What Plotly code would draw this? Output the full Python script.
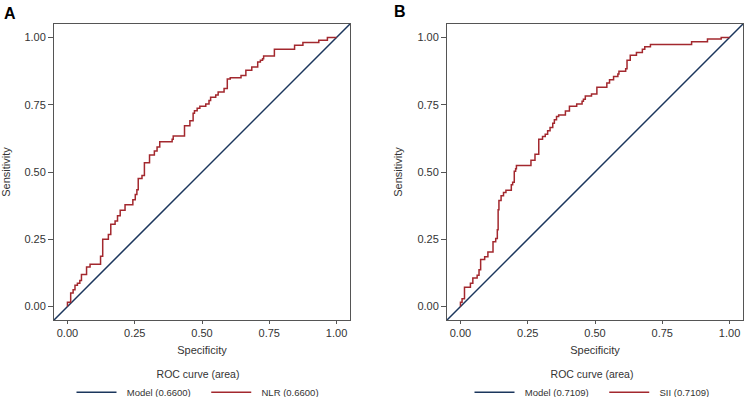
import plotly.graph_objects as go

# Panel A: NLR ROC step points (x where step occurs, y after step)
nlr_x = [0, 0, 0.012, 0.021, 0.028, 0.037, 0.046, 0.052, 0.071, 0.084,
         0.123, 0.131, 0.152, 0.161, 0.177, 0.186, 0.196, 0.214, 0.243, 0.252,
         0.258, 0.263, 0.277, 0.286, 0.305, 0.323, 0.333, 0.343, 0.389, 0.393,
         0.435, 0.455, 0.467, 0.472, 0.482, 0.492, 0.514, 0.526, 0.532, 0.551,
         0.560, 0.582, 0.594, 0.605, 0.645, 0.663, 0.685, 0.707, 0.717, 0.725,
         0.729, 0.769, 0.844, 0.875, 0.934, 0.966, 1.0]
nlr_y = [0, 0.016, 0.05, 0.062, 0.079, 0.087, 0.097, 0.119, 0.147, 0.157,
         0.187, 0.25, 0.268, 0.306, 0.318, 0.337, 0.358, 0.378, 0.397, 0.416,
         0.434, 0.476, 0.487, 0.534, 0.563, 0.578, 0.593, 0.612, 0.622, 0.634,
         0.672, 0.69, 0.718, 0.728, 0.737, 0.744, 0.753, 0.766, 0.778, 0.786,
         0.797, 0.81, 0.846, 0.85, 0.859, 0.878, 0.89, 0.909, 0.915, 0.921,
         0.931, 0.956, 0.971, 0.981, 0.99, 1.0, 1.0]

# Panel B: SII ROC step points
sii_x = [0, 0, 0.006, 0.015, 0.037, 0.046, 0.062, 0.069, 0.075, 0.090,
         0.102, 0.121, 0.131, 0.137, 0.140, 0.143, 0.151, 0.160, 0.169, 0.189,
         0.194, 0.200, 0.205, 0.208, 0.262, 0.277, 0.291, 0.305, 0.315, 0.324,
         0.333, 0.343, 0.349, 0.357, 0.365, 0.390, 0.405, 0.432, 0.452, 0.457,
         0.464, 0.487, 0.507, 0.544, 0.554, 0.569, 0.585, 0.589, 0.614, 0.619,
         0.631, 0.654, 0.676, 0.685, 0.706, 0.859, 0.918, 0.969, 1.0]
sii_y = [0, 0.016, 0.029, 0.072, 0.087, 0.106, 0.116, 0.137, 0.175, 0.185,
         0.203, 0.241, 0.253, 0.285, 0.36, 0.394, 0.412, 0.424, 0.432, 0.453,
         0.462, 0.503, 0.512, 0.524, 0.544, 0.566, 0.622, 0.632, 0.64, 0.653,
         0.665, 0.681, 0.694, 0.706, 0.712, 0.727, 0.744, 0.753, 0.763, 0.770,
         0.782, 0.79, 0.815, 0.831, 0.843, 0.855, 0.864, 0.874, 0.884, 0.915,
         0.934, 0.944, 0.956, 0.965, 0.974, 0.984, 0.994, 1.0, 1.0]

diag = [-0.05, 1.05]
ticks = [0, 0.25, 0.5, 0.75, 1.0]
tick_text = ["0.00", "0.25", "0.50", "0.75", "1.00"]

NAVY = "#1b365d"
RED = "#a3282e"
FONT = "Liberation Sans, Arial, sans-serif"
NB = "\u00a0"

fig = go.Figure()
fig.add_trace(go.Scatter(x=diag, y=diag, mode="lines", line=dict(color=NAVY, width=1.5),
                         name=NB * 2 + "Model (0.6600)" + NB * 4, xaxis="x", yaxis="y", legend="legend"))
fig.add_trace(go.Scatter(x=nlr_x, y=nlr_y, mode="lines", line=dict(color=RED, width=1.5, shape="hv"),
                         name=NB * 2 + "NLR (0.6600)", xaxis="x", yaxis="y", legend="legend"))
fig.add_trace(go.Scatter(x=diag, y=diag, mode="lines", line=dict(color=NAVY, width=1.5),
                         name=NB * 2 + "Model (0.7109)" + NB * 4, xaxis="x2", yaxis="y2", legend="legend2"))
fig.add_trace(go.Scatter(x=sii_x, y=sii_y, mode="lines", line=dict(color=RED, width=1.5, shape="hv"),
                         name=NB * 2 + "SII (0.7109)", xaxis="x2", yaxis="y2", legend="legend2"))

ax_common = dict(range=[-0.05, 1.05], tickvals=ticks, ticktext=tick_text, showgrid=False,
                 zeroline=False, showline=True, linecolor="#555555", linewidth=1, mirror=True,
                 ticks="outside", ticklen=5, tickcolor="#555555", automargin=False,
                 tickfont=dict(size=11, color="#333333", family=FONT))

ydom = [1 - 320 / 397, 1 - 24 / 397]
xt = dict(text="Specificity", font=dict(size=11), standoff=8)
yt = dict(text="Sensitivity", font=dict(size=11), standoff=12)
fig.update_layout(
    width=744, height=397,
    margin=dict(l=0, r=0, t=0, b=0, autoexpand=False),
    paper_bgcolor="white", plot_bgcolor="white",
    font=dict(family=FONT, color="#333333", size=10),
    xaxis=dict(domain=[54 / 744, 350 / 744], anchor="y", title=xt, **{**ax_common, "ticklen": 3}),
    yaxis=dict(domain=ydom, anchor="x", title=yt, **ax_common),
    xaxis2=dict(domain=[447 / 744, 743 / 744], anchor="y2", title=xt, **{**ax_common, "ticklen": 3}),
    yaxis2=dict(domain=ydom, anchor="x2", title=yt, **ax_common),
    legend=dict(orientation="h", x=198 / 744, xanchor="center", y=1 - 364 / 397, yanchor="top",
                title=dict(text="ROC curve (area)", side="top center", font=dict(size=10.5)),
                font=dict(size=9.5, color="#333333"), itemwidth=40, tracegroupgap=0,
                bgcolor="rgba(0,0,0,0)"),
    legend2=dict(orientation="h", x=592 / 744, xanchor="center", y=1 - 364 / 397, yanchor="top",
                 title=dict(text="ROC curve (area)", side="top center", font=dict(size=10.5)),
                 font=dict(size=9.5, color="#333333"), itemwidth=40, tracegroupgap=0,
                 bgcolor="rgba(0,0,0,0)"),
    annotations=[
        dict(text="<b>A</b>", x=2 / 744, y=1 - 3 / 397, xref="paper", yref="paper",
             xanchor="left", yanchor="top", showarrow=False, font=dict(size=16, color="black")),
        dict(text="<b>B</b>", x=392 / 744, y=1 - 1 / 397, xref="paper", yref="paper",
             xanchor="left", yanchor="top", showarrow=False, font=dict(size=16, color="black")),
    ],
)

fig.write_html("out.html", config={"displayModeBar": False},
               post_script="document.body.style.margin='0';document.body.style.padding='0';document.body.style.overflow='hidden';")
